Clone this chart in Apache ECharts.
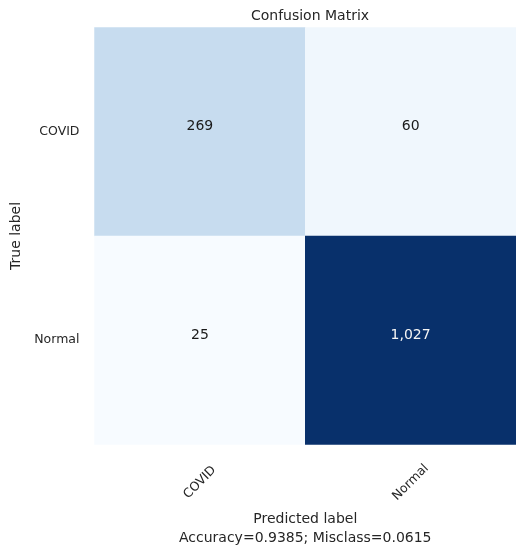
<!DOCTYPE html>
<html>
<head>
<meta charset="utf-8">
<script src="https://cdn.jsdelivr.net/npm/echarts@6/dist/echarts.min.js"></script>
<style>html,body{margin:0;padding:0;background:#fff;}#c{width:516px;height:553px;}</style>
</head>
<body>
<div id="c"></div>
<script>
const predictedLabels = ['COVID', 'Normal'];
const trueLabels = ['COVID', 'Normal'];
// rows = true label, columns = predicted label
const rowCOVID = [269, 60];
const rowNormal = [25, 1027];
const accuracy = '0.9385';
const misclass = '0.0615';

const matrix = [rowCOVID, rowNormal];
const flat = matrix.flat();
const vmin = Math.min(...flat), vmax = Math.max(...flat);
const thresh = vmax / 2;
const data = [];
matrix.forEach((row, i) => row.forEach((v, j) => {
  data.push({value: [j, i, v], label: {color: v > thresh ? '#f5f5f5' : '#1a1a1a'}});
}));

const font = 'DejaVu Sans';
const chart = echarts.init(document.getElementById('c'), null, {renderer: 'canvas'});
chart.setOption({
  backgroundColor: '#ffffff',
  animation: false,
  title: {
    text: 'Confusion Matrix', left: 305, top: 4, textAlign: 'center',
    textStyle: {fontFamily: font, fontSize: 14, fontWeight: 'normal', color: '#262626'}
  },
  grid: {left: 94.5, top: 27.5, width: 423, height: 424, containLabel: false},
  xAxis: {
    type: 'category', data: predictedLabels, position: 'bottom',
    axisLine: {show: false}, axisTick: {show: false}, splitLine: {show: false},
    axisLabel: {rotate: 45, align: 'center', verticalAlign: 'middle', margin: 38,
      fontFamily: font, fontSize: 12.5, color: '#262626'},
    name: 'Predicted label\nAccuracy=' + accuracy + '; Misclass=' + misclass,
    nameLocation: 'middle', nameGap: 61,
    nameTextStyle: {fontFamily: font, fontSize: 14, color: '#262626', lineHeight: 19}
  },
  yAxis: {
    type: 'category', data: trueLabels, inverse: true,
    axisLine: {show: false}, axisTick: {show: false}, splitLine: {show: false},
    axisLabel: {margin: 15, fontFamily: font, fontSize: 12.5, color: '#262626'},
    name: 'True label', nameLocation: 'middle', nameGap: 71, nameRotate: 90,
    nameTextStyle: {fontFamily: font, fontSize: 14, color: '#262626'}
  },
  visualMap: {
    show: false, type: 'continuous', min: vmin, max: vmax, dimension: 2,
    inRange: {color: ['#f7fbff','#deebf7','#c6dbef','#9ecae1','#6baed6','#4292c6','#2171b5','#08519c','#08306b']}
  },
  series: [{
    type: 'heatmap', data: data,
    itemStyle: {borderWidth: 0},
    label: {show: true, fontFamily: font, fontSize: 14, offset: [0, -5],
      formatter: p => p.value[2].toLocaleString('en-US')},
    emphasis: {disabled: true}
  }]
});
</script>
</body>
</html>
